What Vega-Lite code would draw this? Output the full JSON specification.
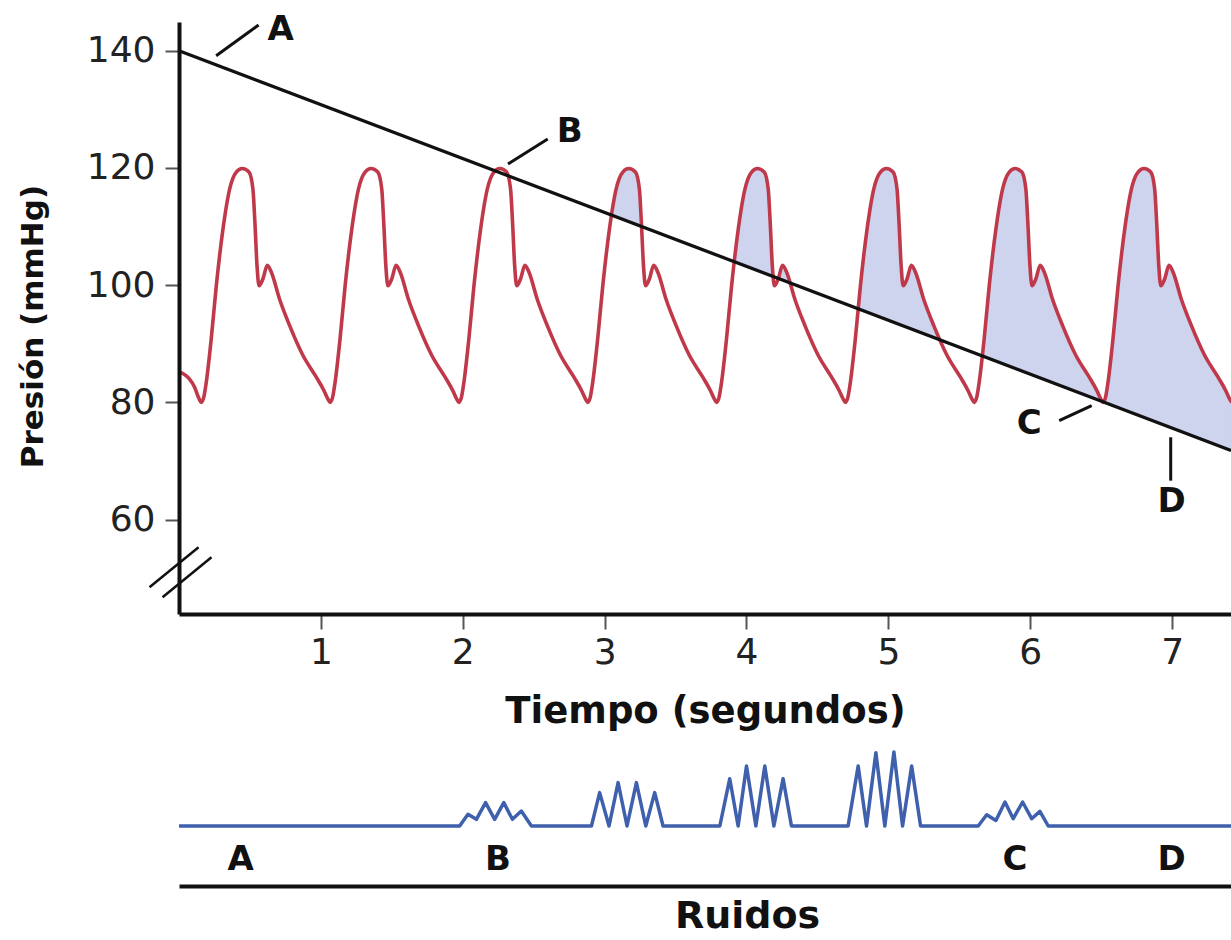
{
  "$schema": "https://vega.github.io/schema/vega-lite/v6.json",
  "background": "white",
  "padding": {"left": 17, "top": 12, "right": 0, "bottom": 0},
  "bounds": "flush",
  "spacing": 130,
  "config": {"view": {"stroke": null}},
  "datasets": {
    "pulse": [
      {"t":0,"v":85.2},{"t":0.03,"v":84.9},{"t":0.07,"v":84.1},{"t":0.11,"v":82.6},{"t":0.14,"v":80.7},
      {"t":0.157,"v":80},{"t":0.175,"v":80.9},{"t":0.192,"v":83.4},{"t":0.227,"v":90.8},{"t":0.263,"v":99.9},{"t":0.31,"v":109.6},{"t":0.357,"v":116.4},{"t":0.404,"v":119.3},{"t":0.446,"v":119.9},{"t":0.493,"v":119.3},{"t":0.521,"v":116.4},{"t":0.535,"v":110.7},{"t":0.55,"v":103.3},{"t":0.564,"v":99.9},{"t":0.592,"v":101.1},{"t":0.622,"v":103.4},{"t":0.651,"v":102.2},{"t":0.709,"v":97.6},{"t":0.78,"v":93.1},{"t":0.874,"v":88.0},{"t":0.968,"v":84.3},{"t":1.022,"v":82.0},{"t":1.047,"v":80.7},
      {"t":1.065,"v":80},{"t":1.083,"v":80.9},{"t":1.1,"v":83.4},{"t":1.135,"v":90.8},{"t":1.171,"v":99.9},{"t":1.218,"v":109.6},{"t":1.265,"v":116.4},{"t":1.312,"v":119.3},{"t":1.354,"v":119.9},{"t":1.401,"v":119.3},{"t":1.429,"v":116.4},{"t":1.443,"v":110.7},{"t":1.458,"v":103.3},{"t":1.472,"v":99.9},{"t":1.5,"v":101.1},{"t":1.53,"v":103.4},{"t":1.559,"v":102.2},{"t":1.617,"v":97.6},{"t":1.688,"v":93.1},{"t":1.782,"v":88.0},{"t":1.876,"v":84.3},{"t":1.93,"v":82.0},{"t":1.955,"v":80.7},
      {"t":1.973,"v":80},{"t":1.991,"v":80.9},{"t":2.008,"v":83.4},{"t":2.043,"v":90.8},{"t":2.079,"v":99.9},{"t":2.126,"v":109.6},{"t":2.173,"v":116.4},{"t":2.22,"v":119.3},{"t":2.262,"v":119.9},{"t":2.309,"v":119.3},{"t":2.337,"v":116.4},{"t":2.351,"v":110.7},{"t":2.366,"v":103.3},{"t":2.38,"v":99.9},{"t":2.408,"v":101.1},{"t":2.438,"v":103.4},{"t":2.467,"v":102.2},{"t":2.525,"v":97.6},{"t":2.596,"v":93.1},{"t":2.69,"v":88.0},{"t":2.784,"v":84.3},{"t":2.838,"v":82.0},{"t":2.863,"v":80.7},
      {"t":2.881,"v":80},{"t":2.899,"v":80.9},{"t":2.916,"v":83.4},{"t":2.951,"v":90.8},{"t":2.987,"v":99.9},{"t":3.034,"v":109.6},{"t":3.081,"v":116.4},{"t":3.128,"v":119.3},{"t":3.17,"v":119.9},{"t":3.217,"v":119.3},{"t":3.245,"v":116.4},{"t":3.259,"v":110.7},{"t":3.274,"v":103.3},{"t":3.288,"v":99.9},{"t":3.316,"v":101.1},{"t":3.346,"v":103.4},{"t":3.375,"v":102.2},{"t":3.433,"v":97.6},{"t":3.504,"v":93.1},{"t":3.598,"v":88.0},{"t":3.692,"v":84.3},{"t":3.746,"v":82.0},{"t":3.771,"v":80.7},
      {"t":3.789,"v":80},{"t":3.807,"v":80.9},{"t":3.824,"v":83.4},{"t":3.859,"v":90.8},{"t":3.895,"v":99.9},{"t":3.942,"v":109.6},{"t":3.989,"v":116.4},{"t":4.036,"v":119.3},{"t":4.078,"v":119.9},{"t":4.125,"v":119.3},{"t":4.153,"v":116.4},{"t":4.167,"v":110.7},{"t":4.182,"v":103.3},{"t":4.196,"v":99.9},{"t":4.224,"v":101.1},{"t":4.254,"v":103.4},{"t":4.283,"v":102.2},{"t":4.341,"v":97.6},{"t":4.412,"v":93.1},{"t":4.506,"v":88.0},{"t":4.6,"v":84.3},{"t":4.654,"v":82.0},{"t":4.679,"v":80.7},
      {"t":4.697,"v":80},{"t":4.715,"v":80.9},{"t":4.732,"v":83.4},{"t":4.767,"v":90.8},{"t":4.803,"v":99.9},{"t":4.85,"v":109.6},{"t":4.897,"v":116.4},{"t":4.944,"v":119.3},{"t":4.986,"v":119.9},{"t":5.033,"v":119.3},{"t":5.061,"v":116.4},{"t":5.075,"v":110.7},{"t":5.09,"v":103.3},{"t":5.104,"v":99.9},{"t":5.132,"v":101.1},{"t":5.162,"v":103.4},{"t":5.191,"v":102.2},{"t":5.249,"v":97.6},{"t":5.32,"v":93.1},{"t":5.414,"v":88.0},{"t":5.508,"v":84.3},{"t":5.562,"v":82.0},{"t":5.587,"v":80.7},
      {"t":5.605,"v":80},{"t":5.623,"v":80.9},{"t":5.64,"v":83.4},{"t":5.675,"v":90.8},{"t":5.711,"v":99.9},{"t":5.758,"v":109.6},{"t":5.805,"v":116.4},{"t":5.852,"v":119.3},{"t":5.894,"v":119.9},{"t":5.941,"v":119.3},{"t":5.969,"v":116.4},{"t":5.983,"v":110.7},{"t":5.998,"v":103.3},{"t":6.012,"v":99.9},{"t":6.04,"v":101.1},{"t":6.07,"v":103.4},{"t":6.099,"v":102.2},{"t":6.157,"v":97.6},{"t":6.228,"v":93.1},{"t":6.322,"v":88.0},{"t":6.416,"v":84.3},{"t":6.47,"v":82.0},{"t":6.495,"v":80.7},
      {"t":6.513,"v":80},{"t":6.531,"v":80.9},{"t":6.548,"v":83.4},{"t":6.583,"v":90.8},{"t":6.619,"v":99.9},{"t":6.666,"v":109.6},{"t":6.713,"v":116.4},{"t":6.76,"v":119.3},{"t":6.802,"v":119.9},{"t":6.849,"v":119.3},{"t":6.877,"v":116.4},{"t":6.891,"v":110.7},{"t":6.906,"v":103.3},{"t":6.92,"v":99.9},{"t":6.948,"v":101.1},{"t":6.978,"v":103.4},{"t":7.007,"v":102.2},{"t":7.065,"v":97.6},{"t":7.136,"v":93.1},{"t":7.23,"v":88.0},{"t":7.324,"v":84.3},{"t":7.378,"v":82.0},{"t":7.403,"v":80.7},
      {"t":7.421,"v":80}
    ],
    "slope": [{"t":0,"v":140},{"t":7.415,"v":71.8}],
    "ann": [
      {"t":0.262,"v":139.15,"t2":0.561,"v2":144.38},
      {"t":2.319,"v":120.67,"t2":2.599,"v2":124.94},
      {"t":6.204,"v":76.89,"t2":6.433,"v2":79.44},
      {"t":6.99,"v":74.05,"t2":6.99,"v2":66.65}
    ],
    "breaks": [
      {"t":-0.208,"v":48.47,"t2":0.138,"v2":55.3},
      {"t":-0.116,"v":46.76,"t2":0.229,"v2":53.58}
    ],
    "labels": [
      {"t":0.716,"v":143.6,"txt":"A"},
      {"t":2.754,"v":126.1,"txt":"B"},
      {"t":5.993,"v":76.33,"txt":"C"},
      {"t":6.997,"v":62.97,"txt":"D"}
    ],
    "sound": [
      {"t":0,"a":0},
      {"t":1.978,"a":0},{"t":2.037,"a":11.7},{"t":2.096,"a":6.7},{"t":2.161,"a":23.4},{"t":2.225,"a":6.7},{"t":2.289,"a":23.4},{"t":2.35,"a":6.7},{"t":2.413,"a":15},{"t":2.484,"a":0},
      {"t":2.907,"a":0},{"t":2.965,"a":33.4},{"t":3.031,"a":0},{"t":3.095,"a":43.4},{"t":3.158,"a":0},{"t":3.224,"a":43.4},{"t":3.29,"a":0},{"t":3.353,"a":33.4},{"t":3.412,"a":0},
      {"t":3.812,"a":0},{"t":3.882,"a":47.3},{"t":3.941,"a":0},{"t":4.0,"a":60},{"t":4.066,"a":0},{"t":4.129,"a":60},{"t":4.193,"a":0},{"t":4.258,"a":47.3},{"t":4.317,"a":0},
      {"t":4.716,"a":0},{"t":4.787,"a":60},{"t":4.846,"a":0},{"t":4.912,"a":73.3},{"t":4.975,"a":0},{"t":5.039,"a":74},{"t":5.1,"a":0},{"t":5.164,"a":60},{"t":5.227,"a":0},
      {"t":5.633,"a":0},{"t":5.693,"a":11.3},{"t":5.758,"a":5.6},{"t":5.822,"a":24},{"t":5.88,"a":7.3},{"t":5.946,"a":24},{"t":6.01,"a":7.3},{"t":6.068,"a":14.6},{"t":6.127,"a":0},
      {"t":7.415,"a":0}
    ],
    "slabels": [
      {"t":0.434,"a":-34,"txt":"A"},
      {"t":2.248,"a":-34,"txt":"B"},
      {"t":5.892,"a":-34,"txt":"C"},
      {"t":6.997,"a":-34,"txt":"D"}
    ]
  },
  "vconcat": [
    {
      "width": 1052,
      "height": 592,
      "encoding": {
        "x": {
          "field": "t", "type": "quantitative",
          "scale": {"domain": [0, 7.415], "nice": false, "zero": false},
          "axis": {
            "values": [1,2,3,4,5,6,7],
            "title": "Tiempo (segundos)",
            "titleFont": "DejaVu Sans", "titleFontSize": 37, "titleFontWeight": "bold", "titleColor": "#111",
            "titlePadding": 23,
            "labelFont": "DejaVu Sans", "labelFontSize": 36, "labelColor": "#222", "labelPadding": 6,
            "tickSize": 15, "tickColor": "#555", "tickWidth": 2,
            "domainColor": "#111", "domainWidth": 4,
            "grid": false, "zindex": 1
          }
        },
        "y": {
          "field": "v", "type": "quantitative",
          "scale": {"domain": [43.9, 144.9], "nice": false, "zero": false},
          "axis": {
            "values": [60,80,100,120,140],
            "title": "Presión (mmHg)",
            "titleFont": "DejaVu Sans", "titleFontSize": 31, "titleFontWeight": "bold", "titleColor": "#111",
            "titleAngle": -90, "titleAlign": "center", "titleBaseline": "middle",
            "titleX": -146, "titleY": 304,
            "labelFont": "DejaVu Sans", "labelFontSize": 36, "labelColor": "#222", "labelPadding": 10,
            "tickSize": 14, "tickColor": "#555", "tickWidth": 2,
            "domainColor": "#111", "domainWidth": 4,
            "grid": false, "zindex": 1
          }
        }
      },
      "layer": [
        {
          "data": {"name": "pulse"},
          "transform": [{"filter": "datum.t >= 2.85"}],
          "mark": {"type": "area", "orient": "vertical", "fill": "#cfd4ee", "interpolate": "monotone"},
          "encoding": {"y2": {"datum": 43.9}}
        },
        {
          "data": {"name": "slope"},
          "mark": {"type": "area", "orient": "vertical", "fill": "white"},
          "encoding": {"y2": {"datum": 43.9}}
        },
        {
          "data": {"name": "pulse"},
          "mark": {"type": "line", "stroke": "#c0394b", "strokeWidth": 3.6, "interpolate": "monotone"}
        },
        {
          "data": {"name": "slope"},
          "mark": {"type": "line", "stroke": "#111", "strokeWidth": 3.3}
        },
        {
          "data": {"name": "ann"},
          "mark": {"type": "rule", "stroke": "#111", "strokeWidth": 3},
          "encoding": {"x2": {"field": "t2"}, "y2": {"field": "v2"}}
        },
        {
          "data": {"name": "breaks"},
          "mark": {"type": "rule", "stroke": "#111", "strokeWidth": 2.5},
          "encoding": {"x2": {"field": "t2"}, "y2": {"field": "v2"}}
        },
        {
          "data": {"name": "labels"},
          "mark": {"type": "text", "font": "DejaVu Sans", "fontWeight": "bold", "fontSize": 34, "align": "center", "baseline": "middle", "color": "#111"},
          "encoding": {"text": {"field": "txt"}}
        }
      ]
    },
    {
      "width": 1052,
      "height": 142,
      "encoding": {
        "x": {
          "field": "t", "type": "quantitative",
          "scale": {"domain": [0, 7.415], "nice": false, "zero": false},
          "axis": {
            "title": "Ruidos", "labels": false, "ticks": false,
            "titleFont": "DejaVu Sans", "titleFontSize": 38, "titleFontWeight": "bold", "titleColor": "#111",
            "titlePadding": 11, "titleX": 568, "titleAlign": "center",
            "domainColor": "#111", "domainWidth": 4, "grid": false
          }
        },
        "y": {
          "field": "a", "type": "quantitative",
          "scale": {"domain": [-60, 82], "nice": false, "zero": false},
          "axis": null
        }
      },
      "layer": [
        {
          "data": {"name": "sound"},
          "mark": {"type": "line", "stroke": "#3f60ad", "strokeWidth": 3.5, "strokeJoin": "round"}
        },
        {
          "data": {"name": "slabels"},
          "mark": {"type": "text", "font": "DejaVu Sans", "fontWeight": "bold", "fontSize": 34, "align": "center", "baseline": "middle", "color": "#111"},
          "encoding": {"text": {"field": "txt"}}
        }
      ]
    }
  ]
}
